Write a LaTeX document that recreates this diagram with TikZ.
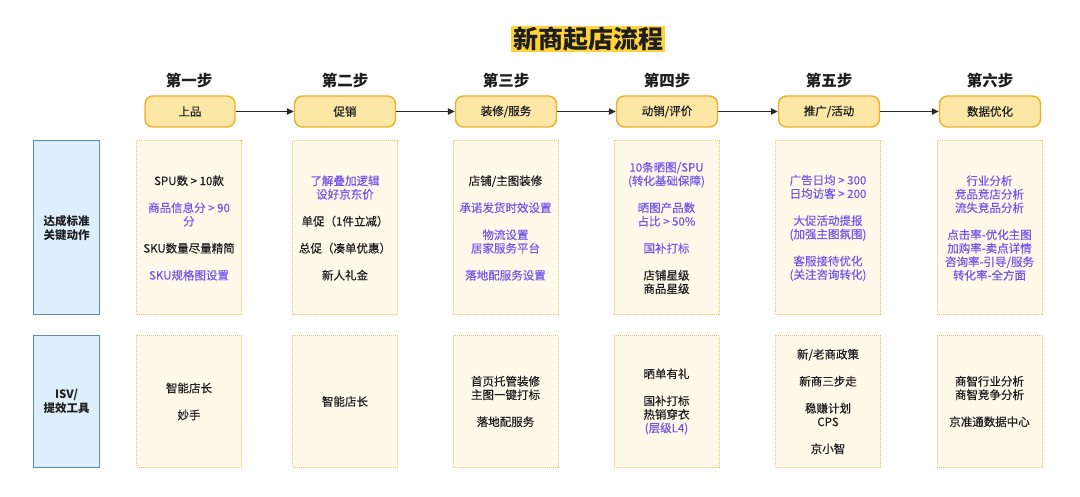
\documentclass[tikz,border=0pt]{standalone}
\usepackage{fontspec}
\setmainfont{Noto Sans CJK SC}[UprightFeatures={FakeBold=0.5}]
\usetikzlibrary{arrows.meta}
\definecolor{Ctitle}{RGB}{255,212,59}
\definecolor{Cstep}{RGB}{253,231,166}
\definecolor{Cedge}{RGB}{236,176,40}
\definecolor{Ccard}{RGB}{254,250,234}
\definecolor{Cdot}{RGB}{240,196,92}
\definecolor{Cside}{RGB}{221,239,252}
\definecolor{Cblue}{RGB}{92,140,184}
\definecolor{Cpur}{RGB}{114,88,234}
\definecolor{Ctxt}{RGB}{30,30,30}
\definecolor{Carrow}{RGB}{40,40,40}
\newcommand{\hl}[1]{\textcolor{Cpur}{#1}}
\begin{document}
\begin{tikzpicture}[
  x=1pt, y=-1pt,
  stepbox/.style={
    draw=Cedge, fill=Cstep, line width=1.4pt, rounded corners=8pt,
    minimum width=101pt, minimum height=31pt, inner sep=0pt,
    text=Ctxt, font=\fontsize{11.5}{13.5}\selectfont
  },
  steplabel/.style={text=Ctxt, font=\fontsize{15.5}{18}\selectfont\bfseries},
  card/.style={
    draw=Cdot, fill=Ccard, densely dotted, line width=1pt,
    minimum width=105pt, inner sep=0pt, align=center,
    text=Ctxt, font=\fontsize{11.5}{13.5}\selectfont
  },
  rowlabel/.style={
    draw=Cblue, fill=Cside, line width=1pt,
    minimum width=66pt, inner sep=0pt, align=center,
    text=Ctxt, font=\fontsize{11.5}{13.5}\selectfont\bfseries
  },
  flow/.style={draw=Carrow, line width=1.1pt, -{Triangle[length=7pt,width=6.5pt]}}
]
\useasboundingbox (0,0) rectangle (1080,497);
\def\laby{81}
\def\stepy{111.5}
\def\rowa{228}
\def\rowb{401.5}
\def\gap{13.5pt}
%% TITLE
\node[fill=Ctitle, inner xsep=2pt, inner ysep=1pt, text=Ctxt,
      font=\fontsize{25}{29}\selectfont\bfseries] (title) at (588,39) {新商起店流程};
%% STEPS
\node[steplabel] (L1) at (189,\laby) {第一步};
\node[steplabel] (L2) at (345,\laby) {第二步};
\node[steplabel] (L3) at (506,\laby) {第三步};
\node[steplabel] (L4) at (667,\laby) {第四步};
\node[steplabel] (L5) at (829,\laby) {第五步};
\node[steplabel] (L6) at (990,\laby) {第六步};
\node[stepbox, minimum width=90pt] (S1) at (190,\stepy) {上品};
\node[stepbox] (S2) at (345,\stepy) {促销};
\node[stepbox] (S3) at (506,\stepy) {装修/服务};
\node[stepbox] (S4) at (667,\stepy) {动销/评价};
\node[stepbox] (S5) at (829,\stepy) {推广/活动};
\node[stepbox] (S6) at (990,\stepy) {数据优化};
\draw[flow] (S1) -- (S2);
\draw[flow] (S2) -- (S3);
\draw[flow] (S3) -- (S4);
\draw[flow] (S4) -- (S5);
\draw[flow] (S5) -- (S6);
%% ROW 1: KEY ACTIONS
\node[rowlabel, minimum height=174pt] (R1) at (66.5,\rowa) {达成标准\\关键动作};
\node[card, minimum height=174pt] (A1) at (189,\rowa)
  {SPU数 > 10款\\[\gap]\hl{商品信息分 > 90}\\\hl{分}\\[\gap]SKU数量尽量精简\\[\gap]\hl{SKU规格图设置}};
\node[card, minimum height=174pt] (A2) at (345,\rowa)
  {\hl{了解叠加逻辑}\\\hl{设好京东价}\\[\gap]单促（1件立减）\\[\gap]总促（凑单优惠）\\[\gap]新人礼金};
\node[card, minimum height=174pt] (A3) at (505.5,\rowa)
  {店铺/主图装修\\[\gap]\hl{承诺发货时效设置}\\[\gap]\hl{物流设置}\\\hl{居家服务平台}\\[\gap]\hl{落地配服务设置}};
\node[card, minimum height=174pt] (A4) at (666.5,\rowa)
  {\hl{10条晒图/SPU}\\\hl{(转化基础保障)}\\[\gap]\hl{晒图产品数}\\\hl{占比 > 50\%}\\[\gap]\hl{国补打标}\\[\gap]店铺星级\\商品星级};
\node[card, minimum height=174pt] (A5) at (828,\rowa)
  {\hl{广告日均 > 300}\\\hl{日均访客 > 200}\\[\gap]\hl{大促活动提报}\\\hl{(加强主图氛围)}\\[\gap]\hl{客服接待优化}\\\hl{(关注咨询转化)}};
\node[card, minimum height=174pt] (A6) at (989.5,\rowa)
  {\hl{行业分析}\\\hl{竞品竞店分析}\\\hl{流失竞品分析}\\[\gap]\hl{点击率-优化主图}\\\hl{加购率-卖点详情}\\\hl{咨询率-引导/服务}\\\hl{转化率-全方面}};
%% ROW 2: ISV TOOLS
\node[rowlabel, minimum height=131pt] (R2) at (66.5,\rowb) {ISV/\\提效工具};
\node[card, minimum height=131pt] (B1) at (189,\rowb) {智能店长\\[\gap]妙手};
\node[card, minimum height=131pt] (B2) at (345,\rowb) {智能店长};
\node[card, minimum height=131pt] (B3) at (505.5,\rowb)
  {首页托管装修\\主图一键打标\\[\gap]落地配服务};
\node[card, minimum height=131pt] (B4) at (666.5,\rowb)
  {晒单有礼\\[\gap]国补打标\\热销穿衣\\\hl{(层级L4)}};
\node[card, minimum height=131pt] (B5) at (828,\rowb)
  {新/老商政策\\[\gap]新商三步走\\[\gap]稳赚计划\\CPS\\[\gap]京小智};
\node[card, minimum height=131pt] (B6) at (989.5,\rowb)
  {商智行业分析\\商智竞争分析\\[\gap]京准通数据中心};
\end{tikzpicture}
\end{document}
